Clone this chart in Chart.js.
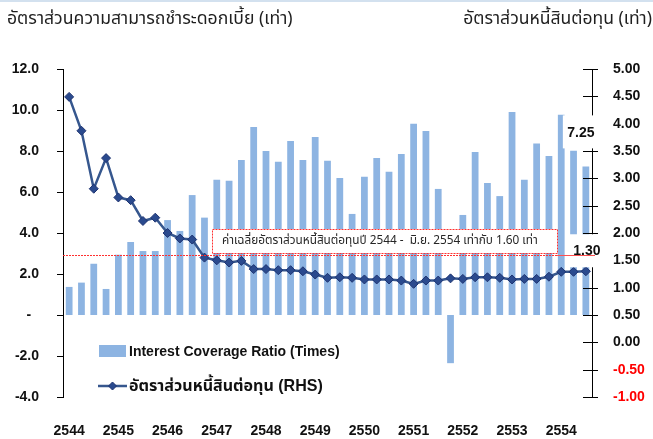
<!DOCTYPE html>
<html><head><meta charset="utf-8">
<script src="https://cdn.jsdelivr.net/npm/chart.js@4.4.1/dist/chart.umd.min.js"></script>
<style>
html,body{margin:0;padding:0;background:#fff;}
#wrap{position:relative;width:653px;height:439px;overflow:hidden;}
canvas{position:absolute;left:0;top:0;}
.title{position:absolute;font-family:Tahoma,'Noto Sans Thai','Noto Sans','DejaVu Sans',sans-serif;font-size:16px;color:#1f1f1f;white-space:nowrap;line-height:1;}
#tl{left:7px;top:10px;}
#tr{right:1px;top:10px;}
#topline{position:absolute;left:0;top:0;width:653px;height:2px;background:#d3e1ef;}
</style></head><body>
<div id="wrap">
<canvas id="c" width="653" height="439"></canvas>
<div id="topline"></div>
<div class="title" id="tl">อัตราส่วนความสามารถชำระดอกเบี้ย (เท่า)</div>
<div class="title" id="tr">อัตราส่วนหนี้สินต่อทุน (เท่า)</div>
</div>
<script>
// ---- data ----
const categories = ['2544','','','','2545','','','','2546','','','','2547','','','','2548','','','','2549','','','','2550','','','','2551','','','','2552','','','','2553','','','','2554','',''];
const interestCoverage = [1.37,1.58,2.50,1.27,2.94,3.56,3.12,3.12,4.63,4.10,5.85,4.75,6.60,6.55,7.56,9.17,8.00,7.48,8.49,7.56,8.68,7.53,6.68,4.93,6.75,7.66,6.99,7.85,9.33,8.98,6.15,-2.35,4.88,7.95,6.44,5.80,9.90,6.60,8.36,7.76,9.77,8.01,7.25];
const debtToEquity = [4.49,3.87,2.81,3.37,2.65,2.60,2.22,2.28,2.00,1.90,1.88,1.55,1.50,1.46,1.49,1.34,1.34,1.32,1.32,1.30,1.24,1.18,1.19,1.18,1.15,1.15,1.15,1.13,1.07,1.13,1.13,1.17,1.16,1.19,1.19,1.18,1.15,1.16,1.16,1.20,1.29,1.29,1.30];
const leftTickValues = [-4,-2,0,2,4,6,8,10,12];
const rightTickValues = [-1,-0.5,0,0.5,1,1.5,2,2.5,3,3.5,4,4.5,5];
const avgDebtEquity = 1.60;
const seriesNames = ['Interest Coverage Ratio (Times)','อัตราส่วนหนี้สินต่อทุน (RHS)'];
const avgNote = 'ค่าเฉลี่ยอัตราส่วนหนี้สินต่อทุนปี 2544 -  มิ.ย. 2554 เท่ากับ ' + avgDebtEquity.toFixed(2) + ' เท่า';

// ---- fit title widths ----
function fitWidth(el, target){
  const w = el.getBoundingClientRect().width;
  const fs = parseFloat(getComputedStyle(el).fontSize);
  el.style.fontSize = (fs*target/w).toFixed(2)+'px';
}
fitWidth(document.getElementById('tl'), 286);
fitWidth(document.getElementById('tr'), 189);

const NUMFONT = 'Arial, "Liberation Sans", Tahoma, "Noto Sans Thai", sans-serif';
const BAR_COLOR = '#8DB4E2';
const LINE_COLOR = '#36578E';
const PT_FILL = '#2A4A8E';
const PT_EDGE = '#1E3370';

function diamond(ctx, x, y, r){
  ctx.beginPath(); ctx.moveTo(x-r,y); ctx.lineTo(x,y-r); ctx.lineTo(x+r,y); ctx.lineTo(x,y+r); ctx.closePath();
  ctx.fillStyle = PT_FILL; ctx.fill(); ctx.strokeStyle = PT_EDGE; ctx.lineWidth = 1; ctx.stroke();
}
function fitFont(ctx, text, base, family, weight, target){
  ctx.font = weight + ' ' + base + 'px ' + family;
  const w = ctx.measureText(text).width;
  ctx.font = weight + ' ' + (base*target/w).toFixed(2) + 'px ' + family;
}

const overlay = {
  id: 'overlay',
  afterDatasetsDraw(chart){
    const ctx = chart.ctx, ca = chart.chartArea;
    const yL = chart.scales.y, yR = chart.scales.y1;
    ctx.save();
    // tick marks
    ctx.strokeStyle = '#000'; ctx.lineWidth = 1;
    leftTickValues.forEach(v => {
      const py = Math.round(yL.getPixelForValue(v)) + 0.5;
      ctx.beginPath(); ctx.moveTo(ca.left-6, py); ctx.lineTo(ca.left, py); ctx.stroke();
    });
    rightTickValues.forEach(v => {
      const py = Math.round(yR.getPixelForValue(v)) + 0.5;
      ctx.beginPath(); ctx.moveTo(ca.right-9, py); ctx.lineTo(ca.right+6, py); ctx.stroke();
    });

    // last-value label boxes
    const barMeta = chart.getDatasetMeta(0), lineMeta = chart.getDatasetMeta(1);
    const lastBar = barMeta.data[barMeta.data.length-1];
    const lastPt = lineMeta.data[lineMeta.data.length-1];
    const bx = lastBar.x, by = lastBar.y;
    const px = lastPt.x, py = lastPt.y;
    ctx.fillStyle = '#fff';
    ctx.fillRect(bx-23, by-51, 36, 33);
    ctx.fillRect(px-19, py-37, 36, 33);

    // average line
    const avgY = Math.round(yR.getPixelForValue(avgDebtEquity)) + 0.5;
    const boxL = ca.left + 149, boxR = ca.left + 494, boxT = avgY - 26.5, boxB = avgY - 2.5;
    ctx.strokeStyle = '#FF3030'; ctx.lineWidth = 1;
    ctx.setLineDash([2,1]);
    ctx.beginPath(); ctx.moveTo(ca.left, avgY); ctx.lineTo(boxR, avgY); ctx.stroke();
    ctx.setLineDash([]);
    ctx.strokeStyle = '#FF5050';
    ctx.beginPath(); ctx.moveTo(boxR, avgY); ctx.lineTo(ca.right+3, avgY); ctx.stroke();

    // annotation box
    ctx.fillStyle = '#fff';
    ctx.fillRect(boxL, boxT, boxR-boxL, boxB-boxT);
    ctx.setLineDash([2,1]);
    ctx.strokeStyle = '#FF3030';
    ctx.strokeRect(Math.round(boxL)+0.5, Math.round(boxT)+0.5, Math.round(boxR-boxL), Math.round(boxB-boxT));
    ctx.setLineDash([]);
    fitFont(ctx, avgNote, 12, 'Tahoma, "Noto Sans Thai", "Liberation Sans", sans-serif', 'normal', 316);
    ctx.fillStyle = '#262626'; ctx.textBaseline = 'middle'; ctx.textAlign = 'left';
    ctx.fillText(avgNote, boxL + 10, (boxT+boxB)/2 + 1);

    // value labels
    ctx.font = 'bold 14px ' + NUMFONT;
    ctx.fillStyle = '#111'; ctx.textAlign = 'center'; ctx.textBaseline = 'middle';
    ctx.fillText(interestCoverage[interestCoverage.length-1].toFixed(2), bx-5, by-33);
    ctx.fillText(debtToEquity[debtToEquity.length-1].toFixed(2), px+1, py-20);

    // legend
    const lx = ca.left + 36;
    const l1y = ca.top + 282, l2y = ca.top + 317;
    ctx.fillStyle = BAR_COLOR;
    ctx.fillRect(lx, l1y-6, 27, 12);
    ctx.strokeStyle = LINE_COLOR; ctx.lineWidth = 2.5;
    ctx.beginPath(); ctx.moveTo(lx-1, l2y); ctx.lineTo(lx+28, l2y); ctx.stroke();
    diamond(ctx, lx+13.5, l2y, 4);
    ctx.fillStyle = '#111'; ctx.textAlign = 'left'; ctx.textBaseline = 'middle';
    ctx.font = 'bold 14px ' + NUMFONT;
    ctx.fillText(chart.data.datasets[0].label, lx+30, l1y+1);
    fitFont(ctx, chart.data.datasets[1].label, 14, NUMFONT, 'bold', 194);
    ctx.fillText(chart.data.datasets[1].label, lx+30, l2y+1);
    ctx.restore();
  }
};

new Chart(document.getElementById('c'), {
  data: {
    labels: categories,
    datasets: [
      { type:'bar', label: seriesNames[0], data: interestCoverage, yAxisID:'y',
        backgroundColor: BAR_COLOR, borderWidth:0, barPercentage:0.55, categoryPercentage:1.0, order:2 },
      { type:'line', label: seriesNames[1], data: debtToEquity, yAxisID:'y1',
        borderColor: LINE_COLOR, borderWidth:2.5, tension:0,
        pointStyle:'rectRot', pointRadius:4.5, pointBackgroundColor: PT_FILL,
        pointBorderColor: PT_EDGE, pointBorderWidth:1, order:1 }
    ]
  },
  options: {
    responsive:false, animation:false,
    layout:{ padding:{ top:69, left:0, right:0, bottom:0 } },
    plugins:{ legend:{display:false}, tooltip:{enabled:false}, title:{display:false} },
    scales:{
      x:{ type:'category', offset:true,
          grid:{display:false, drawTicks:false}, border:{display:false},
          ticks:{ autoSkip:false, maxRotation:0, minRotation:0, padding:26,
                  font:{family:NUMFONT, size:14, weight:'bold'}, color:'#111' },
          afterFit(s){ s.height = 42; } },
      y:{ position:'left', min:-4, max:12,
          afterBuildTicks(s){ s.ticks = leftTickValues.map(v=>({value:v})); },
          grid:{display:false, drawTicks:false}, border:{display:true, color:'#000', width:1},
          ticks:{ padding:24, font:{family:NUMFONT, size:14, weight:'bold'}, color:'#111',
                  callback:(v)=> v===0 ? '-  ' : Number(v).toFixed(1) },
          afterFit(s){ s.width = 63; } },
      y1:{ position:'right', min:-1, max:5,
          afterBuildTicks(s){ s.ticks = rightTickValues.map(v=>({value:v})); },
          grid:{display:false, drawTicks:false}, border:{display:true, color:'#000', width:1},
          ticks:{ padding:21, font:{family:NUMFONT, size:14, weight:'bold'},
                  color:(c)=> c.tick && c.tick.value < 0 ? '#FF0000' : '#111',
                  callback:(v)=> Number(v).toFixed(2) },
          afterFit(s){ s.width = 61; } }
    }
  },
  plugins:[overlay]
});
</script>
</body></html>
